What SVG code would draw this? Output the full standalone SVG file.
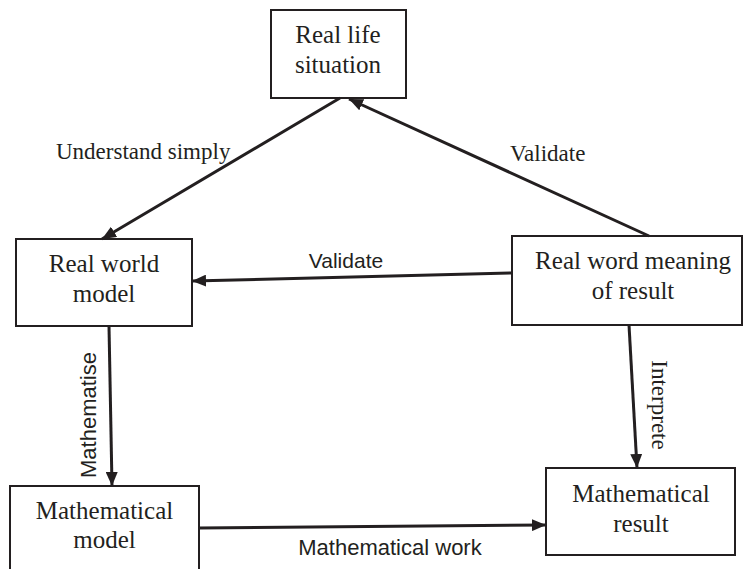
<svg xmlns="http://www.w3.org/2000/svg" width="745" height="569" viewBox="0 0 745 569">
<defs>
<marker id="ah" markerUnits="userSpaceOnUse" markerWidth="14" markerHeight="12" refX="14" refY="6" orient="auto">
<path d="M0,0 L14,6 L0,12 z" fill="#231f20"/>
</marker>
<style>
.box{fill:#fff;stroke:#231f20;stroke-width:2}
.t{font-family:"Liberation Serif","Times New Roman",serif;font-size:25px;fill:#231f20;text-anchor:middle}
.ls{font-family:"Liberation Serif","Times New Roman",serif;font-size:23px;fill:#231f20}
.ss{font-family:"Liberation Sans",Arial,sans-serif;font-size:22px;fill:#231f20}
.c{stroke:#231f20;stroke-width:3;fill:none;marker-end:url(#ah)}
</style>
</defs>
<rect width="745" height="569" fill="#fff"/>
<g id="real-life">
<rect class="box" x="271" y="10" width="135" height="88"/>
<text class="t" x="338" y="43">Real life</text>
<text class="t" x="338" y="73">situation</text>
</g>
<g id="real-world-model">
<rect class="box" x="16" y="239" width="176" height="87"/>
<text class="t" x="104" y="272">Real world</text>
<text class="t" x="104" y="302">model</text>
</g>
<g id="real-word-meaning">
<rect class="box" x="512" y="236" width="230" height="89"/>
<text class="t" x="633" y="269">Real word meaning</text>
<text class="t" x="633" y="299">of result</text>
</g>
<g id="math-model">
<rect class="box" x="10" y="486" width="189" height="95"/>
<text class="t" x="104.5" y="519">Mathematical</text>
<text class="t" x="104.5" y="548">model</text>
</g>
<g id="math-result">
<rect class="box" x="546" y="468" width="189" height="87"/>
<text class="t" x="641" y="502">Mathematical</text>
<text class="t" x="641" y="532">result</text>
</g>
<g id="connectors">
<line class="c" x1="340" y1="98" x2="102" y2="239"/>
<line class="c" x1="649" y1="236" x2="349" y2="99"/>
<line class="c" x1="512" y1="273" x2="192" y2="281"/>
<line class="c" x1="109" y1="326" x2="112" y2="486"/>
<line class="c" x1="629" y1="325" x2="637" y2="468"/>
<line class="c" x1="199" y1="528" x2="546" y2="525"/>
<text class="ls" x="56" y="159">Understand simply</text>
<text class="ls" x="510" y="161">Validate</text>
<text class="ss" x="346" y="268" text-anchor="middle" style="font-size:21px">Validate</text>
<text class="ss" x="390" y="555" text-anchor="middle">Mathematical work</text>
<text class="ss" transform="translate(96,415) rotate(-90)" text-anchor="middle">Mathematise</text>
<text class="ls" transform="translate(652,405) rotate(90)" text-anchor="middle">Interprete</text>
</g>
</svg>
